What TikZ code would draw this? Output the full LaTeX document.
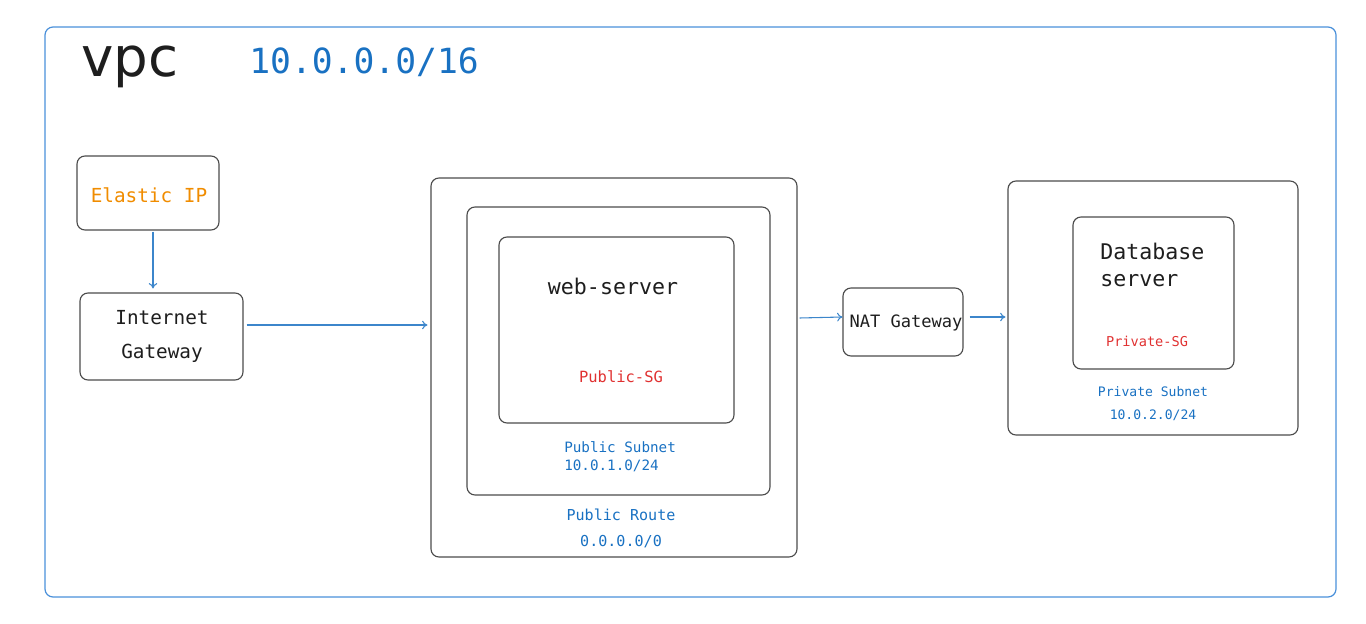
\documentclass[tikz,border=0pt]{standalone}
\usepackage{fontspec}
\setmainfont{DejaVu Sans}
\setmonofont{DejaVu Sans Mono}
\usetikzlibrary{fit, arrows.meta}
\definecolor{netblue}{HTML}{1971C2}
\definecolor{vpcblue}{HTML}{4A90DA}
\definecolor{sgred}{HTML}{E03131}
\definecolor{ipgold}{HTML}{F08C00}
\definecolor{inkgray}{HTML}{1E1E1E}
\tikzset{box/.style = {draw=inkgray!80, line width=0.85pt, rounded corners=6pt},
  frame/.style = {box, inner sep=0, fit={#1}},
  link/.style = {draw=netblue!85, line width=0.8pt, -{To[length=4pt, width=6.5pt]}},
  mono/.style 2 args = {inner sep=0, font=\ttfamily\fontsize{#1}{#2}\selectfont}}

\begin{document}
\begin{tikzpicture}[x=0.75pt, y=-0.75pt]
      \useasboundingbox (0, 0) rectangle (1366, 624);

      % the vpc
      \node [frame={(45, 27) (1336, 597)}, draw=vpcblue, line width=0.9pt] (vpc) {};
      \node [inner sep=0, anchor=base west, font=\fontsize{41}{41}\selectfont, text=inkgray] (vpcname) at (81, 77) {vpc};
      \node [mono={26}{26}, text=netblue, anchor=west] (vpccidr) at (249, 62) {10.0.0.0/16};

      % left side
      \node [box, minimum width=106.5pt, minimum height=55.5pt] (eip) at (148, 193) {};
      \node [mono={14.5}{14.5}, text=ipgold] at (149, 195) {Elastic IP};
      \node [box, minimum width=122.25pt, minimum height=65.25pt] (igw) at (161.5, 336.5) {};
      \node [mono={14.5}{25.5}, align=center, text=inkgray] at (162, 336) {Internet\\Gateway};

      % public side
      \node [frame={(431, 178) (797, 557)}] (route) {};
      \node [frame={(467, 207) (770, 495)}] (pubnet) {};
      \node [frame={(499, 237) (734, 423)}] (web) {};
      \node [mono={16.2}{16.2}, text=inkgray] at (613, 286) {web-server};
      \node [mono={11.6}{11.6}, text=sgred] at (621, 377) {Public-SG};
      \node [mono={10.7}{13.5}, text=netblue, align=left, anchor=west] at (564, 457) {Public Subnet\\10.0.1.0/24};
      \node [mono={11.3}{11.3}, text=netblue] at (621, 515) {Public Route};
      \node [mono={11.3}{11.3}, text=netblue] at (621, 542) {0.0.0.0/0};

      % nat
      \node [box, minimum width=90pt, minimum height=51pt] (nat) at (903, 322) {};
      \node [mono={12.8}{12.8}, text=inkgray] at (906, 323) {NAT Gateway};

      % private side
      \node [frame={(1008, 181) (1298, 435)}] (privnet) {};
      \node [frame={(1073, 217) (1234, 369)}] (db) {};
      \node [mono={16.2}{20.25}, text=inkgray, align=left, anchor=north west] at (1100, 243) {Database\\server};
      \node [mono={10.2}{10.2}, text=sgred] at (1147, 341) {Private-SG};
      \node [mono={9.8}{9.8}, text=netblue] at (1153, 392) {Private Subnet};
      \node [mono={9.8}{9.8}, text=netblue] at (1153, 415) {10.0.2.0/24};

      % links
      \coordinate (eipfoot) at ([xshift=3.75pt, yshift=-0.75pt]eip.south);
      \draw [link] (eipfoot) -- ([yshift=3pt]eipfoot |- igw.north);
      \draw [link] ([xshift=2.25pt]igw.east |- 0, 325) -- ([xshift=-2.25pt]route.west |- 0, 325);
      \draw [link] ([xshift=1.5pt]route.east |- 0, 318) -- (nat.west |- 0, 317);
      \draw [link] ([xshift=4.5pt]nat.east |- 0, 317) -- ([xshift=-1.5pt]privnet.west |- 0, 317);
    \end{tikzpicture}
\end{document}
